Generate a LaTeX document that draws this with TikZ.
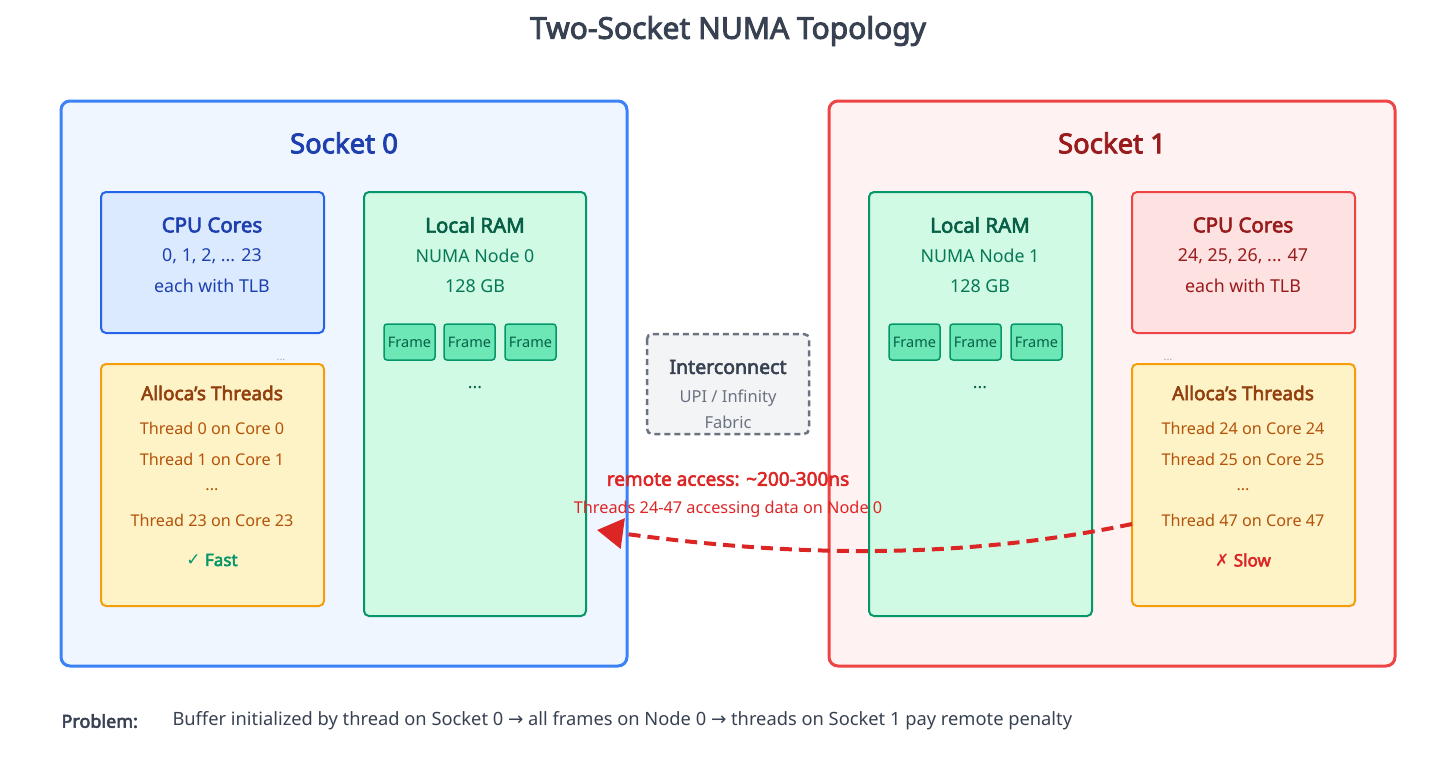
\documentclass[tikz,border=0pt]{standalone}
\usepackage{fontspec}
\setmainfont{Noto Sans}[BoldFont={Noto Sans},BoldFeatures={FakeBold=3}]
\newfontfamily\symf{DejaVu Sans}
\usetikzlibrary{arrows.meta}
\definecolor{sbS}{HTML}{3B82F6}\definecolor{sbF}{HTML}{EFF6FF}
\definecolor{srS}{HTML}{EF4444}\definecolor{srF}{HTML}{FEF2F2}
\definecolor{cbS}{HTML}{2563EB}\definecolor{cbF}{HTML}{DBEAFE}\definecolor{cbT}{HTML}{1E40AF}
\definecolor{crS}{HTML}{EF4444}\definecolor{crF}{HTML}{FEE2E2}\definecolor{crT}{HTML}{991B1B}
\definecolor{gS}{HTML}{059669}\definecolor{gF}{HTML}{D1FAE5}\definecolor{gT}{HTML}{065F46}\definecolor{gB}{HTML}{047857}\definecolor{frF}{HTML}{6EE7B7}
\definecolor{yS}{HTML}{F59E0B}\definecolor{yF}{HTML}{FEF3C7}\definecolor{yT}{HTML}{92400E}\definecolor{yB}{HTML}{B45309}
\definecolor{gr}{HTML}{6B7280}\definecolor{grF}{HTML}{F3F4F6}\definecolor{dk}{HTML}{374151}
\definecolor{red}{HTML}{DC2626}
\tikzset{x=1pt,y=-1pt,
 box/.style={draw,line width=2pt,rounded corners=5pt},
 sock/.style={draw,line width=3pt,rounded corners=9pt},
 t/.style={font=\fontsize{20.5}{23}\selectfont\bfseries,anchor=center},
 b/.style={font=\fontsize{17.8}{20}\selectfont,anchor=center},
 th/.style={font=\fontsize{16.2}{19}\selectfont,anchor=center,text=yB},
 frame/.style={draw=gS,fill=frF,line width=1.5pt,rounded corners=3pt,minimum width=51pt,minimum height=36pt,inner sep=0pt,font=\fontsize{14.5}{16}\selectfont,text=gT}}
\begin{document}
\begin{tikzpicture}
\useasboundingbox (0,0) rectangle (1456,768);
\node[font=\fontsize{30}{34}\selectfont\bfseries,text=dk] (title) at (728,31) {Two-Socket NUMA Topology};
% sockets
\draw[sock,draw=sbS,fill=sbF] (61,101) rectangle (627,666);
\draw[sock,draw=srS,fill=srF] (829,101) rectangle (1395,666);
\node[font=\fontsize{27.5}{30}\selectfont\bfseries,text=cbT] (s0) at (344,143) {Socket 0};
\node[font=\fontsize{27.5}{30}\selectfont\bfseries,text=crT] (s1) at (1112,143) {Socket 1};
% socket 0
\draw[box,draw=cbS,fill=cbF] (101,192) rectangle (324,333);
\node[t,text=cbT] (c0t) at (212,225) {CPU Cores};
\node[b,text=cbT] (c0a) at (212,256) {0, 1, 2, ... 23};
\node[b,text=cbT] (c0b) at (212,286) {each with TLB};
\node[b,text=gr!60,font=\fontsize{11}{11}\selectfont] (d0) at (281,360) {...};
\draw[box,draw=yS,fill=yF] (101,364) rectangle (324,606);
\node[t,text=yT,font=\fontsize{19}{22}\selectfont\bfseries] (a0t) at (212,393) {Alloca's Threads};
\node[th] (a01) at (212,428) {Thread 0 on Core 0};
\node[th] (a02) at (212,459) {Thread 1 on Core 1};
\node[th] (a03) at (212,490) {...};
\node[th] (a04) at (212,520) {Thread 23 on Core 23};
\node[b,text=gS,font=\fontsize{17}{19}\selectfont\bfseries] (fast) at (212,560) {{\symf ✓} Fast};
\draw[box,draw=gS,fill=gF] (364,192) rectangle (586,616);
\node[t,text=gT] (r0t) at (475,225) {Local RAM};
\node[b,text=gB] (r0a) at (475,256) {NUMA Node 0};
\node[b,text=gB] (r0b) at (475,286) {128 GB};
\node[frame] (f01) at (409.5,342) {Frame};
\node[frame] (f02) at (469.5,342) {Frame};
\node[frame] (f03) at (530.5,342) {Frame};
\node[b,text=gT] (r0d) at (475,388) {...};
% socket 1
\draw[box,draw=gS,fill=gF] (869,192) rectangle (1092,616);
\node[t,text=gT] (r1t) at (980,225) {Local RAM};
\node[b,text=gB] (r1a) at (980,256) {NUMA Node 1};
\node[b,text=gB] (r1b) at (980,286) {128 GB};
\node[frame] (f11) at (914.5,342) {Frame};
\node[frame] (f12) at (975.5,342) {Frame};
\node[frame] (f13) at (1036.5,342) {Frame};
\node[b,text=gT] (r1d) at (980,388) {...};
\draw[box,draw=crS,fill=crF] (1132,192) rectangle (1355,333);
\node[t,text=crT] (c1t) at (1243,225) {CPU Cores};
\node[b,text=crT] (c1a) at (1243,256) {24, 25, 26, ... 47};
\node[b,text=crT] (c1b) at (1243,286) {each with TLB};
\node[b,text=gr!60,font=\fontsize{11}{11}\selectfont] (d1) at (1168,360) {...};
\draw[box,draw=yS,fill=yF] (1132,364) rectangle (1355,606);
\node[t,text=yT,font=\fontsize{19}{22}\selectfont\bfseries] (a1t) at (1243,393) {Alloca's Threads};
\node[th] (a11) at (1243,428) {Thread 24 on Core 24};
\node[th] (a12) at (1243,459) {Thread 25 on Core 25};
\node[th] (a13) at (1243,490) {...};
\node[th] (a14) at (1243,520) {Thread 47 on Core 47};
\node[b,text=red,font=\fontsize{17}{19}\selectfont\bfseries] (slow) at (1243,560) {{\symf ✗} Slow};
% interconnect
\draw[draw=gr,fill=grF,line width=2.5pt,dash pattern=on 6pt off 4pt,rounded corners=5pt] (647,334) rectangle (809,434);
\node[t,text=dk,font=\fontsize{19.5}{22}\selectfont\bfseries] (ict) at (728,367) {Interconnect};
\node[b,text=gr,font=\fontsize{16.5}{19}\selectfont] (ic1) at (728,398) {UPI / Infinity};
\node[b,text=gr,font=\fontsize{16.5}{19}\selectfont] (ic2) at (728,422) {Fabric};
% remote arrow
\coordinate (src) at (1132,524);
\coordinate (dst) at (597,530);
\draw[red,line width=4pt,dash pattern=on 12pt off 7pt,-{Triangle[length=26pt,width=30pt]}] (src) .. controls (950,562) and (780,555) .. (dst);
\node[text=red,font=\fontsize{19}{22}\selectfont\bfseries] (rl) at (728,479) {remote access: \textasciitilde200-300ns};
\node[text=red,font=\fontsize{16.3}{19}\selectfont] (rl2) at (728,509) {Threads 24-47 accessing data on Node 0};
% bottom
\node[anchor=west,text=dk,font=\fontsize{18}{20}\selectfont\bfseries] (pb) at (58,721) {Problem:};
\node[anchor=west,text=dk,font=\fontsize{18.3}{20}\selectfont] (pt) at (169,721) {Buffer initialized by thread on Socket 0 {\symf →} all frames on Node 0 {\symf →} threads on Socket 1 pay remote penalty};
\end{tikzpicture}
\end{document}
